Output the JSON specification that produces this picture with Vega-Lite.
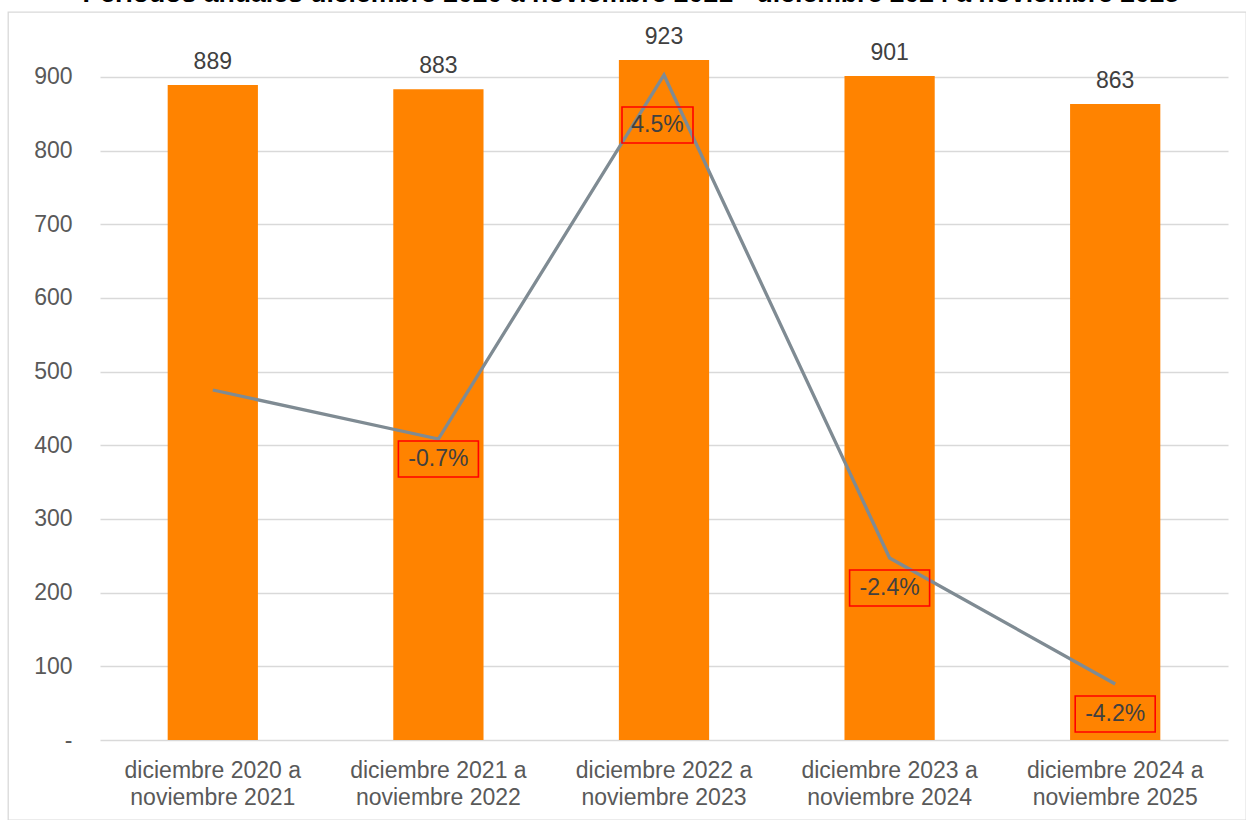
{
  "$schema": "https://vega.github.io/schema/vega-lite/v6.json",
  "autosize": "none",
  "padding": {"left": 8, "top": 12, "right": 0, "bottom": 0},
  "width": 1238,
  "height": 808,
  "background": "white",
  "config": {
    "font": "Liberation Sans",
    "view": {"stroke": "#D9D9D9", "strokeWidth": 1.3},
    "locale": {"number": {"decimal": ".", "thousands": ",", "grouping": [3], "currency": ["$", ""], "minus": "-"}}
  },
  "title": {
    "text": "Períodos anuales diciembre 2020 a noviembre 2021 - diciembre 2024 a noviembre 2025",
    "anchor": "middle",
    "frame": "group",
    "baseline": "alphabetic",
    "offset": 0,
    "dy": 17,
    "dx": 4,
    "fontSize": 26.6,
    "fontWeight": "bold",
    "color": "#000000"
  },
  "data": {
    "values": [
      {"periodo": "diciembre 2020 a noviembre 2021", "valor": 889, "pct": 0},
      {"periodo": "diciembre 2021 a noviembre 2022", "valor": 883, "pct": -0.007},
      {"periodo": "diciembre 2022 a noviembre 2023", "valor": 923, "pct": 0.045},
      {"periodo": "diciembre 2023 a noviembre 2024", "valor": 901, "pct": -0.024},
      {"periodo": "diciembre 2024 a noviembre 2025", "valor": 863, "pct": -0.042}
    ]
  },
  "encoding": {
    "x": {
      "field": "periodo",
      "type": "nominal",
      "sort": null,
      "scale": {"range": [92, 1220], "paddingInner": 0.6, "paddingOuter": 0.3},
      "axis": {
        "orient": "bottom",
        "offset": -80,
        "labelPadding": 19,
        "ticks": false,
        "domain": false,
        "grid": false,
        "title": null,
        "labelAngle": 0,
        "labelFontSize": 23,
        "labelColor": "#595959",
        "labelLineHeight": 27.3,
        "labelLimit": 400,
        "labelExpr": "[substring(datum.label, 0, 16), substring(datum.label, 17)]"
      }
    }
  },
  "layer": [
    {
      "encoding": {
        "y": {
          "field": "valor",
          "type": "quantitative",
          "scale": {"domain": [0, 950], "range": [728, 28], "nice": false, "zero": true},
          "axis": {
            "orient": "left",
            "offset": -92,
            "values": [0, 100, 200, 300, 400, 500, 600, 700, 800, 900],
            "labelPadding": 28,
            "ticks": false,
            "domain": false,
            "grid": true,
            "gridColor": "#D9D9D9",
            "gridWidth": 1.3,
            "title": null,
            "labelFontSize": 23,
            "labelColor": "#595959",
            "labelExpr": "datum.value == 0 ? '-\u00a0\u00a0' : datum.label"
          }
        }
      },
      "layer": [
        {"mark": {"type": "bar", "color": "#FF8300"}},
        {
          "mark": {"type": "text", "baseline": "alphabetic", "align": "center", "dy": -16, "fontSize": 23, "color": "#404040"},
          "encoding": {"text": {"field": "valor", "type": "quantitative"}}
        }
      ]
    },
    {
      "encoding": {
        "y": {
          "field": "pct",
          "type": "quantitative",
          "scale": {"domain": [-0.05, 0.05], "range": [728, 28], "nice": false, "zero": false},
          "axis": null
        }
      },
      "layer": [
        {"mark": {"type": "line", "color": "#7F8B93", "strokeWidth": 3.3}},
        {
          "transform": [{"filter": "datum.pct != 0"}],
          "mark": {"type": "point", "filled": false, "stroke": "#FF0000", "strokeWidth": 1.6, "size": 6400, "opacity": 1},
          "encoding": {
            "shape": {
              "condition": [
                {"test": "datum.pct > 0.04", "value": "M-1.05,0.8L0.725,0.8L0.725,1.7L-1.05,1.7Z"},
                {"test": "datum.pct > -0.01", "value": "M-1,0.05L1,0.05L1,0.95L-1,0.95Z"}
              ],
              "value": "M-1,0.3L1,0.3L1,1.2L-1,1.2Z"
            }
          }
        },
        {
          "transform": [{"filter": "datum.pct < 0 && datum.pct > -0.01"}],
          "mark": {"type": "text", "baseline": "middle", "align": "center", "dy": 20, "fontSize": 23, "color": "#404040"},
          "encoding": {"text": {"field": "pct", "type": "quantitative", "format": ".1%"}}
        },
        {
          "transform": [{"filter": "datum.pct < -0.01"}],
          "mark": {"type": "text", "baseline": "middle", "align": "center", "dy": 30, "fontSize": 23, "color": "#404040"},
          "encoding": {"text": {"field": "pct", "type": "quantitative", "format": ".1%"}}
        },
        {
          "transform": [{"filter": "datum.pct > 0.04"}],
          "mark": {"type": "text", "baseline": "middle", "align": "center", "dy": 50, "dx": -6.5, "fontSize": 23, "color": "#404040"},
          "encoding": {"text": {"field": "pct", "type": "quantitative", "format": ".1%"}}
        }
      ]
    }
  ],
  "resolve": {"scale": {"y": "independent"}}
}
